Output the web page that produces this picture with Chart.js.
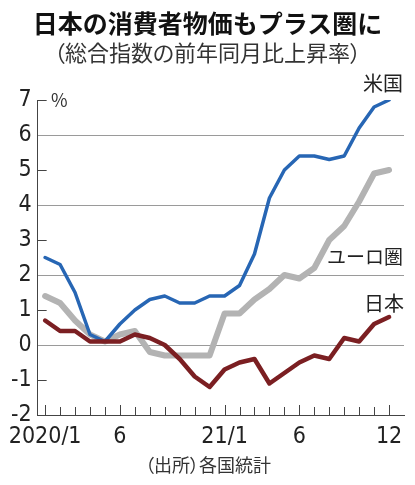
<!DOCTYPE html>
<html>
<head>
<meta charset="utf-8">
<script src="https://cdn.jsdelivr.net/npm/chart.js@4"></script>
<style>
  body { margin: 0; background: #fff; }
  #wrap { position: relative; width: 415px; height: 485px; font-family: "Noto Sans CJK JP", sans-serif; color: #222; }
  #wrap canvas { position: absolute; left: 0; top: 0; }
  .t { position: absolute; line-height: 1; white-space: nowrap; }
  .p { font-feature-settings: "palt"; }
</style>
</head>
<body>
<div id="wrap">
  <canvas id="myChart" width="415" height="485"></canvas>
  <div class="t" style="left:0;width:415px;text-align:center;top:10px;font-size:25px;font-weight:bold;color:#111;">日本の消費者物価もプラス圏に</div>
  <div class="t p" style="left:0;width:415px;text-align:center;top:40px;font-size:22px;color:#333;">（総合指数の前年同月比上昇率）</div>
  <div class="t" style="left:51px;top:90px;font-size:18px;color:#333;">%</div>
  <div class="t" style="right:12px;top:73px;font-size:20px;">米国</div>
  <div class="t" style="right:12px;top:246px;font-size:19px;">ユーロ圏</div>
  <div class="t" style="right:11px;top:293px;font-size:20px;">日本</div>
  <div class="t p" style="left:145px;top:455px;font-size:18px;color:#333;">（出所）各国統計</div>
</div>
<script>
document.addEventListener("DOMContentLoaded", function() {
  // 2020/1 .. 2021/12
  var months = ["2020/1", "", "", "", "", "6", "", "", "", "", "", "",
                "21/1", "", "", "", "", "6", "", "", "", "", "", "12"];
  var usCpi = [2.5, 2.3, 1.5, 0.3, 0.1, 0.6, 1.0, 1.3, 1.4, 1.2, 1.2, 1.4,
               1.4, 1.7, 2.6, 4.2, 5.0, 5.4, 5.4, 5.3, 5.4, 6.2, 6.8, 7.0];
  var euroCpi = [1.4, 1.2, 0.7, 0.3, 0.1, 0.3, 0.4, -0.2, -0.3, -0.3, -0.3, -0.3,
                 0.9, 0.9, 1.3, 1.6, 2.0, 1.9, 2.2, 3.0, 3.4, 4.1, 4.9, 5.0];
  var japanCpi = [0.7, 0.4, 0.4, 0.1, 0.1, 0.1, 0.3, 0.2, 0.0, -0.4, -0.9, -1.2,
                  -0.7, -0.5, -0.4, -1.1, -0.8, -0.5, -0.3, -0.4, 0.2, 0.1, 0.6, 0.8];
  var yTicks = [-2, -1, 0, 1, 2, 3, 4, 5, 6, 7];

  function pts(arr) {
    return arr.map(function(v, i) { return { x: i, y: v }; });
  }

  var tickFont = { family: "'Liberation Sans Narrow', 'Arial Narrow', 'DejaVu Sans Condensed', sans-serif", size: 23 };

  // short ticks inside the plot (odd y values, every month on x)
  var innerTicks = {
    id: "innerTicks",
    afterDraw: function(chart) {
      var c = chart.ctx, xs = chart.scales.x, ys = chart.scales.y;
      var left = chart.chartArea.left, bottom = chart.chartArea.bottom;
      c.save();
      c.strokeStyle = "#444";
      c.lineWidth = 1;
      c.beginPath();
      yTicks.forEach(function(v) {
        if (v % 2 !== 0 && v !== -2) {
          var py = Math.round(ys.getPixelForValue(v)) + 0.5;
          c.moveTo(left, py);
          c.lineTo(left + 9, py);
        }
      });
      months.forEach(function(m, i) {
        var px = Math.round(xs.getPixelForValue(i)) + 0.5;
        c.moveTo(px, bottom);
        c.lineTo(px, bottom - (m ? 10 : 8));
      });
      c.stroke();
      c.restore();
    }
  };

  var ctx = document.getElementById("myChart").getContext("2d");
  var myChart = new Chart(ctx, {
    type: "line",
    data: {
      datasets: [
        { label: "日本", data: pts(japanCpi), borderColor: "#7b1f22", borderWidth: 4.5 },
        { label: "米国", data: pts(usCpi), borderColor: "#2766b4", borderWidth: 3.5 },
        { label: "ユーロ圏", data: pts(euroCpi), borderColor: "#b3b3b3", borderWidth: 6 }
      ]
    },
    options: {
      responsive: false,
      animation: false,
      layout: { padding: { top: 100, right: 11, bottom: 0, left: 0 } },
      elements: {
        line: { tension: 0, borderCapStyle: "round", borderJoinStyle: "round" },
        point: { radius: 0, hoverRadius: 0 }
      },
      plugins: {
        legend: { display: false },
        tooltip: { enabled: false }
      },
      scales: {
        x: {
          type: "linear",
          min: -0.5,
          max: 24,
          afterBuildTicks: function(s) {
            s.ticks = months.map(function(m, i) { return { value: i }; });
          },
          afterFit: function(s) { s.height = 70; },
          grid: { display: false, drawTicks: false },
          border: { display: true, color: "#444", width: 1 },
          ticks: {
            autoSkip: false,
            maxRotation: 0,
            padding: 8,
            color: "#222",
            font: tickFont,
            callback: function(v) { return months[v]; }
          }
        },
        y: {
          min: -2,
          max: 7,
          afterBuildTicks: function(s) {
            s.ticks = yTicks.map(function(v) { return { value: v }; });
          },
          afterFit: function(s) { s.width = 36; },
          grid: {
            drawTicks: false,
            color: function(c) {
              var v = c.tick.value;
              return (v % 2 === 0 && v >= 0 && v <= 6) ? "#9a9a9a" : "rgba(0,0,0,0)";
            }
          },
          border: { display: true, color: "#444", width: 1 },
          ticks: {
            padding: 6,
            color: "#222",
            font: tickFont
          }
        }
      }
    },
    plugins: [innerTicks]
  });
});
</script>
</body>
</html>
